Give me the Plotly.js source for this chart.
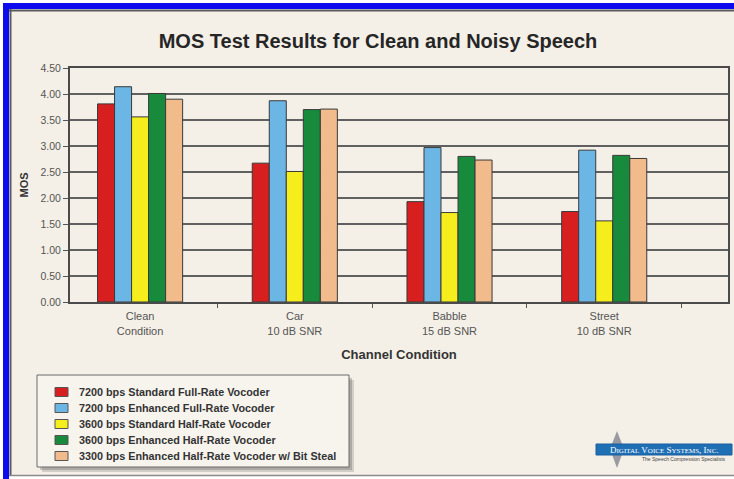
<!DOCTYPE html>
<html>
<head>
<meta charset="utf-8">
<script src="https://cdn.plot.ly/plotly-3.0.1.min.js"></script>
<style>
html,body{margin:0;padding:0;background:#ffffff;}
#chart{width:734px;height:479px;}
</style>
</head>
<body>
<div id="chart"></div>
<script>
// ---- data ----
const categories = ['Clean<br>Condition', 'Car<br>10 dB SNR', 'Babble<br>15 dB SNR', 'Street<br>10 dB SNR'];
const seriesNames = [
  '7200 bps Standard Full-Rate Vocoder',
  '7200 bps Enhanced Full-Rate Vocoder',
  '3600 bps Standard Half-Rate Vocoder',
  '3600 bps Enhanced Half-Rate Vocoder',
  '3300 bps Enhanced Half-Rate Vocoder w/ Bit Steal'
];
const std7200Full = [3.81, 2.67, 1.93, 1.74];
const enh7200Full = [4.14, 3.87, 2.97, 2.92];
const std3600Half = [3.56, 2.51, 1.72, 1.56];
const enh3600Half = [4.01, 3.70, 2.80, 2.82];
const enh3300BitSteal = [3.90, 3.71, 2.73, 2.76];
const yTickVals = [0, 0.5, 1, 1.5, 2, 2.5, 3, 3.5, 4, 4.5];

const seriesValues = [std7200Full, enh7200Full, std3600Half, enh3600Half, enh3300BitSteal];
const colors = ['#d71f1f', '#6cb6e6', '#f6ee1c', '#178a3c', '#f1bb8c'];

// ---- geometry helpers (pixel -> paper) ----
const W = 734, H = 479;
const M = {l: 70, r: 6, t: 68, b: 177};
const PW = W - M.l - M.r, PH = H - M.t - M.b;
const px = v => (v - M.l) / PW;
const py = v => (H - M.b - v) / PH;

const font = 'Liberation Sans, Arial, sans-serif';

const traces = seriesValues.map((vals, i) => ({
  type: 'bar',
  name: seriesNames[i],
  x: categories,
  y: vals,
  marker: {color: colors[i], line: {color: '#3a3a3a', width: 1}},
  showlegend: false,
  hoverinfo: 'y+name'
}));

const shapes = [];
const annotations = [];

function rect(x0, y0, x1, y1, fill, line, layer) {
  shapes.push({type: 'rect', xref: 'paper', yref: 'paper',
    x0: px(x0), x1: px(x1), y0: py(y1), y1: py(y0),
    fillcolor: fill, line: line || {width: 0}, layer: layer || 'above'});
}
function lineSeg(x0, y0, x1, y1, color, width, layer) {
  shapes.push({type: 'line', xref: 'paper', yref: 'paper',
    x0: px(x0), x1: px(x1), y0: py(y0), y1: py(y1),
    line: {color: color, width: width}, layer: layer || 'above'});
}

// background panel
rect(10, 11, 734, 475, '#f4f0e7', null, 'below');
// blue frame
rect(3, 3, 734, 9, '#0b0bee', null, 'below');
rect(3, 3, 9, 479, '#0b0bee', null, 'below');
// inner grey frame
lineSeg(9, 10.5, 734, 10.5, '#5a5a5a', 2, 'below');
lineSeg(10.5, 9, 10.5, 476, '#5a5a5a', 2, 'below');
lineSeg(9, 475.5, 734, 475.5, '#8a8a8a', 1.5, 'below');

// legend (box with soft shadow)
rect(42, 380, 354, 472, 'rgba(60,60,60,0.18)', null, 'above');
rect(40, 378, 352, 470, 'rgba(60,60,60,0.25)', null, 'above');
rect(37, 375, 349, 467, '#f7f4ee', {color: '#6a6a6a', width: 1}, 'above');
seriesNames.forEach((name, i) => {
  const cy = 392 + i * 16;
  rect(55, cy - 4.5, 68, cy + 4.5, colors[i], {color: '#555', width: 1}, 'above');
  annotations.push({xref: 'paper', yref: 'paper', x: px(77), y: py(cy),
    xanchor: 'left', yanchor: 'middle', showarrow: false, text: '<b>' + name + '</b>',
    font: {family: font, size: 10.8, color: '#333'}});
});

// logo
shapes.push({type: 'path', xref: 'paper', yref: 'paper', layer: 'above',
  path: 'M ' + px(617) + ' ' + py(431) + ' L ' + px(624) + ' ' + py(449) + ' L ' + px(617) + ' ' + py(468) + ' L ' + px(610) + ' ' + py(449) + ' Z',
  fillcolor: '#9a9aa2', line: {width: 0}});
rect(596, 444, 732, 455, '#1f6fb5', {color: '#1a5f9e', width: 1}, 'above');
annotations.push({xref: 'paper', yref: 'paper', x: px(664), y: py(449.5),
  xanchor: 'center', yanchor: 'middle', showarrow: false,
  text: 'D<span style="font-size:7px">IGITAL</span> V<span style="font-size:7px">OICE</span> S<span style="font-size:7px">YSTEMS</span>, I<span style="font-size:7px">NC</span>.',
  font: {family: 'Liberation Serif, Times New Roman, serif', size: 9, color: '#ffffff'}});
annotations.push({xref: 'paper', yref: 'paper', x: px(684), y: py(459),
  xanchor: 'center', yanchor: 'middle', showarrow: false,
  text: 'The Speech Compression Specialists',
  font: {family: font, size: 5, color: '#444'}});

const layout = {
  width: W, height: H,
  margin: M,
  paper_bgcolor: '#ffffff',
  plot_bgcolor: 'rgba(0,0,0,0)',
  barmode: 'group',
  bargap: 0.45,
  bargroupgap: 0,
  showlegend: false,
  title: {
    text: '<b>MOS Test Results for Clean and Noisy Speech</b>',
    font: {family: font, size: 20, color: '#262626'},
    xref: 'paper', x: px(378), xanchor: 'center',
    yref: 'container', y: 1 - 41 / H, yanchor: 'middle'
  },
  xaxis: {
    type: 'category',
    range: [-0.453, 3.8],
    showline: true, linecolor: '#4a4a4a', linewidth: 2, mirror: true,
    ticks: 'outside', tickson: 'boundaries', ticklen: 4, tickcolor: '#555',
    showgrid: false,
    ticklabelstandoff: 3,
    tickfont: {family: font, size: 11, color: '#555'},
    title: {text: '<b>Channel Condition</b>', font: {family: font, size: 13, color: '#333'}, standoff: 14}
  },
  yaxis: {
    range: [0, 4.5],
    tickvals: yTickVals, tickformat: '.2f',
    showline: true, linecolor: '#4a4a4a', linewidth: 2, mirror: true,
    ticks: 'outside', ticklen: 5, tickcolor: '#555',
    showgrid: true, gridcolor: '#606060', gridwidth: 1.5,
    zeroline: false,
    tickfont: {family: font, size: 10.5, color: '#555'},
    title: {text: '<b>MOS</b>', font: {family: font, size: 11, color: '#333'}, standoff: 10}
  },
  shapes: shapes,
  annotations: annotations
};

Plotly.newPlot('chart', traces, layout, {displayModeBar: false, staticPlot: true});
</script>
</body>
</html>
